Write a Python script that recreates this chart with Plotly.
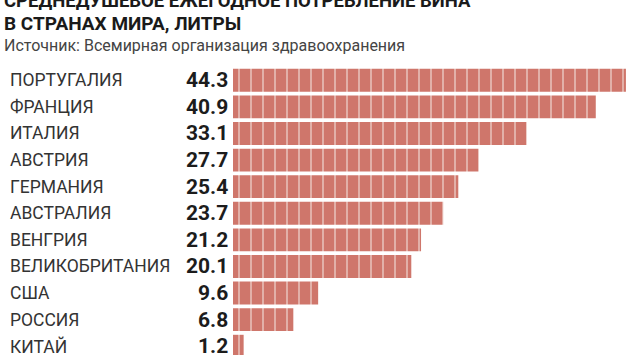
import plotly.graph_objects as go

countries = ["ПОРТУГАЛИЯ", "ФРАНЦИЯ", "ИТАЛИЯ", "АВСТРИЯ", "ГЕРМАНИЯ", "АВСТРАЛИЯ",
             "ВЕНГРИЯ", "ВЕЛИКОБРИТАНИЯ", "США", "РОССИЯ", "КИТАЙ"]
values = [44.3, 40.9, 33.1, 27.7, 25.4, 23.7, 21.2, 20.1, 9.6, 6.8, 1.2]
value_labels = ["44.3", "40.9", "33.1", "27.7", "25.4", "23.7", "21.2", "20.1", "9.6", "6.8", "1.2"]

title_line1 = "СРЕДНЕДУШЕВОЕ ЕЖЕГОДНОЕ ПОТРЕБЛЕНИЕ ВИНА"
title_line2 = "В СТРАНАХ МИРА, ЛИТРЫ"
source = "Источник: Всемирная организация здравоохранения"

W, H = 630, 355
ML, MT = 233, 67
PW, PH = W - ML, H - MT

BAR = "#cf766b"

fig = go.Figure(go.Bar(
    x=values, y=countries, orientation="h",
    marker=dict(color=BAR, line=dict(width=0),
                pattern=dict(shape="|", fgcolor="#f6e9e6", size=12, solidity=0.17,
                             fillmode="overlay")),
    width=0.86, hoverinfo="skip",
))

def py(p):
    return (H - p) / PH

def px(p):
    return (p - ML) / PW

ann = []
for c, v in zip(countries, value_labels):
    ann.append(dict(x=px(8), xref="paper", y=c, yref="y", text=c, showarrow=False,
                    xanchor="left", yanchor="middle",
                    font=dict(family="Roboto", size=17.5, color="#333333")))
    ann.append(dict(x=0, xref="x", y=c, yref="y", text=v, showarrow=False,
                    xanchor="right", yanchor="middle", xshift=-3,
                    font=dict(family="Roboto", size=21, color="#1c1c1c", weight="bold")))

ann.append(dict(x=px(2), xref="paper", y=py(1), yref="paper", text=title_line1, showarrow=False,
                xanchor="left", yanchor="middle",
                font=dict(family="Roboto", size=18.5, color="#1a1a1a", weight="bold")))
ann.append(dict(x=px(2), xref="paper", y=py(24), yref="paper", text=title_line2, showarrow=False,
                xanchor="left", yanchor="middle",
                font=dict(family="Roboto", size=19, color="#1a1a1a", weight="bold")))
ann.append(dict(x=px(2), xref="paper", y=py(46), yref="paper", text=source, showarrow=False,
                xanchor="left", yanchor="middle",
                font=dict(family="Roboto", size=16, color="#444444")))

fig.update_layout(
    width=W, height=H,
    margin=dict(l=ML, r=0, t=MT, b=0, pad=0),
    paper_bgcolor="white", plot_bgcolor="white",
    showlegend=False,
    xaxis=dict(range=[0, PW / 8.87], visible=False, fixedrange=True),
    yaxis=dict(range=[10.33, -0.5], visible=False, fixedrange=True),
    annotations=ann,
)

fig.write_html("out.html", config={"displayModeBar": False},
               post_script="document.body.style.margin='0';document.body.style.overflow='hidden';")
